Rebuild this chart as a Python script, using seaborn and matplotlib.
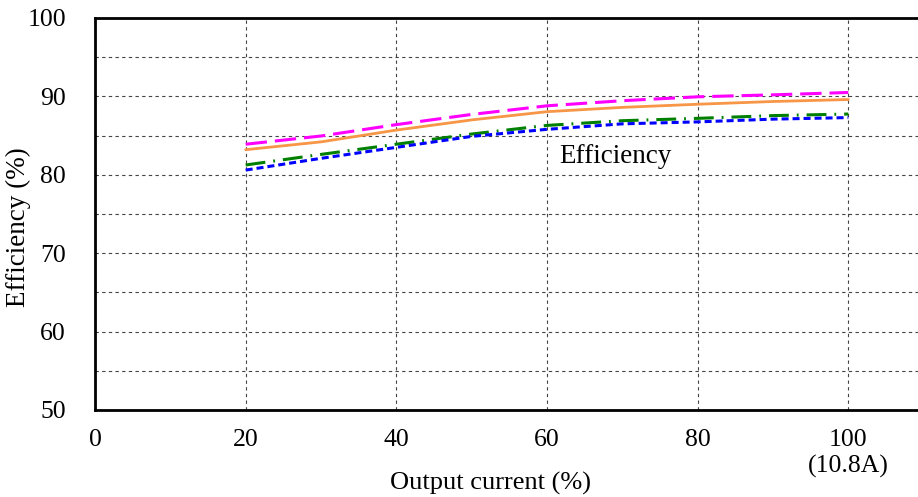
import matplotlib
matplotlib.use("Agg")
import matplotlib.pyplot as plt
from matplotlib.ticker import MultipleLocator, FixedLocator
import seaborn as sns
import pandas as pd

# Output current (% of rated 10.8 A) and measured efficiency (%)
current = [20, 30, 40, 50, 60, 70, 80, 90, 100]
eff_magenta = [83.9, 84.95, 86.4, 87.7, 88.8, 89.45, 89.95, 90.2, 90.5]
eff_orange = [83.2, 84.2, 85.7, 87.0, 88.05, 88.6, 89.0, 89.35, 89.6]
eff_green = [81.25, 82.6, 83.9, 85.2, 86.3, 86.9, 87.2, 87.55, 87.75]
eff_blue = [80.6, 82.1, 83.5, 84.9, 85.8, 86.5, 86.75, 87.1, 87.3]

x_ticks = [0, 20, 40, 60, 80, 100]
x_tick_labels = ["0", "20", "40", "60", "80", "100\n(10.8A)"]
y_ticks = [50, 60, 70, 80, 90, 100]

sns.set_theme(style="white")
plt.rcParams["font.family"] = ["Liberation Serif", "DejaVu Serif"]

fig = plt.figure(figsize=(9.18, 4.97), dpi=100)
ax = fig.add_axes([95 / 918, 1 - 410 / 497, 1 - 95 / 918, (410 - 18) / 497])

series = [
    (eff_magenta, "#FF00FF", (0, (7.0, 2.6)), 2.2),
    (eff_orange, "#F79646", "-", 2.0),
    (eff_green, "#008000", (0, (6.5, 2.6, 0.6, 2.6)), 2.2),
    (eff_blue, "#0000FF", (0, (2.3, 1.3)), 2.2),
]
for vals, color, ls, lw in series:
    df = pd.DataFrame({"current": current, "eff": vals})
    sns.lineplot(data=df, x="current", y="eff", ax=ax, color=color,
                 linestyle=ls, linewidth=lw, zorder=3)

ax.set_xlim(0, 109.25)
ax.set_ylim(50, 100)

ax.xaxis.set_major_locator(FixedLocator(x_ticks))
ax.set_xticklabels(x_tick_labels)
ax.yaxis.set_major_locator(FixedLocator(y_ticks))
ax.yaxis.set_minor_locator(MultipleLocator(5))

grid_kw = dict(color="#444444", linestyle=(0, (3, 3)), linewidth=0.8)
ax.grid(True, which="major", axis="x", **grid_kw)
ax.grid(True, which="both", axis="y", **grid_kw)

ax.tick_params(axis="both", which="major", direction="in", length=5,
               width=1, color="black", labelsize=18.5, labelcolor="black")
ax.tick_params(axis="x", pad=14)
ax.tick_params(axis="y", pad=21)
ax.tick_params(axis="y", which="minor", length=0)

for side in ["left", "bottom", "top"]:
    ax.spines[side].set_visible(True)
    ax.spines[side].set_color("black")
    ax.spines[side].set_linewidth(2)
ax.spines["right"].set_visible(False)

ax.set_xlabel("Output current (%)", fontsize=19, color="black", va="center")
ax.set_ylabel("Efficiency (%)", fontsize=19.5, color="black", va="center")
ax.xaxis.set_label_coords((491 - 95) / 823, -(483 - 410) / 392)
ax.yaxis.set_label_coords(-(95 - 18) / 823, (410 - 227) / 392)

ax.text(61.6, 82.3, "Efficiency", fontsize=19.5, color="black",
        ha="left", va="center", zorder=4)

fig.savefig("out.png", dpi=100)
